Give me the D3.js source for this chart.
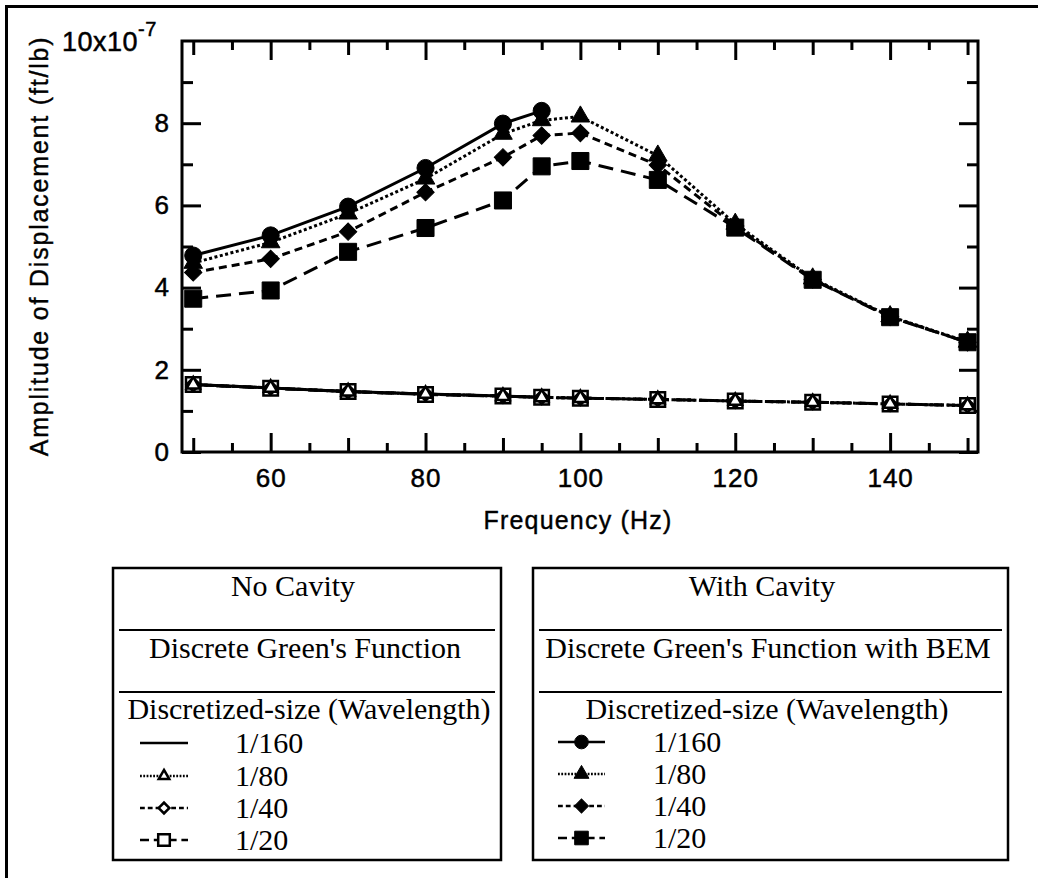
<!DOCTYPE html>
<html><head><meta charset="utf-8">
<script src="https://cdn.jsdelivr.net/npm/d3@7"></script>
<style>html,body{margin:0;padding:0;background:#fff}</style>
</head><body>
<svg id="chart" width="1038" height="878"></svg>
<script>
// Frequencies (Hz) sampled by each run
const freqFull = [50, 60, 70, 80, 90, 95, 100, 110, 120, 130, 140, 150];
const freqShort = [50, 60, 70, 80, 90, 95];

// With cavity: Discrete Green's Function with BEM (x10^-7 ft/lb)
const cav160 = [4.78, 5.27, 5.97, 6.91, 7.99, 8.30];
const cav80  = [4.60, 5.10, 5.80, 6.65, 7.74, 8.07, 8.16, 7.21, 5.55, 4.22, 3.30, 2.68];
const cav40  = [4.37, 4.70, 5.36, 6.32, 7.17, 7.70, 7.76, 6.98, 5.50, 4.20, 3.29, 2.67];
const cav20  = [3.73, 3.93, 4.87, 5.45, 6.12, 6.95, 7.08, 6.62, 5.46, 4.19, 3.28, 2.67];

// No cavity: Discrete Green's Function (x10^-7 ft/lb)
const free160 = [1.64, 1.56, 1.47, 1.41, 1.36, 1.33];
const free80  = [1.64, 1.56, 1.47, 1.41, 1.36, 1.33, 1.31, 1.28, 1.24, 1.21, 1.17, 1.13];
const free40  = [1.64, 1.56, 1.47, 1.41, 1.36, 1.33, 1.31, 1.28, 1.24, 1.21, 1.17, 1.13];
const free20  = [1.64, 1.55, 1.47, 1.40, 1.36, 1.33, 1.31, 1.28, 1.24, 1.21, 1.17, 1.13];

// Axis ticks
const xLabelTicks = [60, 80, 100, 120, 140];
const xMidTicks = [50, 70, 90, 110, 130, 150];
const xShortTicks = [55, 65, 75, 85, 95, 105, 115, 125, 135, 145];
const yLabelTicks = [0, 2, 4, 6, 8];
const yMinorTicks = [1, 3, 5, 7, 9];

const legendSizes = ["1/160", "1/80", "1/40", "1/20"];

const svg = d3.select("#chart");
const L = 182, R = 978, T = 41, B = 452;

const x = d3.scaleLinear().domain([48.55, 151.35]).range([L, R]);
const y = d3.scaleLinear().domain([0, 10]).range([B, T]);

// outer page frame
svg.append("path").attr("d", "M6.5,878V6.5H1038")
  .attr("fill", "none").attr("stroke", "#000").attr("stroke-width", 3);

const sansFont = "'Liberation Sans', Arial, Helvetica, sans-serif";
const serifFont = "'Liberation Serif', 'Times New Roman', serif";

function styleAxis(g) {
  g.select(".domain").remove();
  g.selectAll(".tick line").attr("stroke", "#000").attr("stroke-width", 3);
  g.selectAll(".tick text").attr("fill", "#000").attr("stroke", "#000").attr("stroke-width", 0.5)
    .style("font-family", sansFont).style("font-size", "26px").style("letter-spacing", "1px");
}

// bottom ticks (inward) with labels
svg.append("g").attr("transform", `translate(0,${B})`)
  .call(d3.axisBottom(x).tickValues(xLabelTicks).tickSize(-19).tickPadding(17).tickFormat(d3.format("d")))
  .call(styleAxis);
svg.append("g").attr("transform", `translate(0,${B})`)
  .call(d3.axisBottom(x).tickValues(xMidTicks).tickSize(-14).tickFormat(""))
  .call(styleAxis);
svg.append("g").attr("transform", `translate(0,${B})`)
  .call(d3.axisBottom(x).tickValues(xShortTicks).tickSize(-9).tickFormat(""))
  .call(styleAxis);
// top mirror ticks
svg.append("g").attr("transform", `translate(0,${T})`)
  .call(d3.axisTop(x).tickValues(xLabelTicks).tickSize(-19).tickFormat(""))
  .call(styleAxis);
svg.append("g").attr("transform", `translate(0,${T})`)
  .call(d3.axisTop(x).tickValues(xMidTicks).tickSize(-14).tickFormat(""))
  .call(styleAxis);
svg.append("g").attr("transform", `translate(0,${T})`)
  .call(d3.axisTop(x).tickValues(xShortTicks).tickSize(-9).tickFormat(""))
  .call(styleAxis);

// left ticks with labels
svg.append("g").attr("transform", `translate(${L},0)`)
  .call(d3.axisLeft(y).tickValues(yLabelTicks).tickSize(-19).tickPadding(12).tickFormat(d3.format("d")))
  .call(styleAxis);
svg.append("g").attr("transform", `translate(${L},0)`)
  .call(d3.axisLeft(y).tickValues(yMinorTicks).tickSize(-11).tickFormat(""))
  .call(styleAxis);
// right mirror ticks
svg.append("g").attr("transform", `translate(${R},0)`)
  .call(d3.axisRight(y).tickValues(yLabelTicks).tickSize(-19).tickFormat(""))
  .call(styleAxis);
svg.append("g").attr("transform", `translate(${R},0)`)
  .call(d3.axisRight(y).tickValues(yMinorTicks).tickSize(-11).tickFormat(""))
  .call(styleAxis);

// top label with exponent
const topLabel = svg.append("text").attr("x", 62).attr("y", y(10) + 9.5)
  .attr("stroke", "#000").attr("stroke-width", 0.5)
  .style("font-family", sansFont).style("font-size", "27px").style("letter-spacing", "0.5px");
topLabel.append("tspan").text("10x10");
topLabel.append("tspan").attr("dy", -15).style("font-size", "20px").text("-7");

// plot frame
svg.append("rect").attr("x", L).attr("y", T).attr("width", R - L).attr("height", B - T)
  .attr("fill", "none").attr("stroke", "#000").attr("stroke-width", 3);

// axis titles
svg.append("text").attr("x", (L + R) / 2 - 2).attr("y", 529).attr("text-anchor", "middle")
  .attr("stroke", "#000").attr("stroke-width", 0.4)
  .style("font-family", sansFont).style("font-size", "25px").style("letter-spacing", "1.2px")
  .text("Frequency (Hz)");
svg.append("text").attr("transform", "translate(48,246) rotate(-90)").attr("text-anchor", "middle")
  .attr("stroke", "#000").attr("stroke-width", 0.4)
  .style("font-family", sansFont).style("font-size", "25px").style("letter-spacing", "1.8px")
  .text("Amplitude of Displacement (ft/lb)");

// series definitions
const dashes = { s160: null, s80: "3,2.5", s40: "8,5", s20: "15,8" };
const symSquare = d3.symbol().type(d3.symbolSquare);
const symTri = d3.symbol().type(d3.symbolTriangle);
const symCircle = d3.symbol().type(d3.symbolCircle);

const series = [
  { f: freqFull, v: free20, dash: dashes.s20, mark: "square", filled: false },
  { f: freqFull, v: free40, dash: dashes.s40, mark: "diamond", filled: false },
  { f: freqFull, v: free80, dash: dashes.s80, mark: "triangle", filled: false },
  { f: freqShort, v: free160, dash: dashes.s160, mark: null, filled: false },
  { f: freqFull, v: cav20, dash: dashes.s20, mark: "square", filled: true },
  { f: freqFull, v: cav40, dash: dashes.s40, mark: "diamond", filled: true },
  { f: freqFull, v: cav80, dash: dashes.s80, mark: "triangle", filled: true },
  { f: freqShort, v: cav160, dash: dashes.s160, mark: "circle", filled: true }
];

function markerPath(kind, filled, scale) {
  const k = scale || 1;
  if (kind === "square") return symSquare.size((filled ? 290 : 210) * k * k)();
  if (kind === "diamond") return symSquare.size((filled ? 150 : 90) * k * k)();
  if (kind === "triangle") return symTri.size((filled ? 150 : 75) * k * k)();
  if (kind === "circle") return symCircle.size(230 * k * k)();
  return null;
}

function drawMarker(g, kind, filled, cx, cy, scale) {
  if (!kind) return;
  g.append("path")
    .attr("d", markerPath(kind, filled, scale))
    .attr("transform", `translate(${cx},${cy})` + (kind === "diamond" ? " rotate(45)" : ""))
    .attr("fill", filled ? "#000" : "#fff")
    .attr("stroke", "#000").attr("stroke-width", filled ? 1 : 2.5);
}

const line = d3.line().x(d => x(d[0])).y(d => y(d[1]));
const plot = svg.append("g");

series.forEach(s => {
  const pts = s.f.map((f, i) => [f, s.v[i]]);
  plot.append("path").datum(pts).attr("d", line)
    .attr("fill", "none").attr("stroke", "#000").attr("stroke-width", 3)
    .attr("stroke-dasharray", s.dash);
});
series.forEach(s => {
  s.f.forEach((f, i) => drawMarker(plot, s.mark, s.filled, x(f), y(s.v[i])));
});

// legend boxes
function legendBox(bx, by, bw, bh, titles, titleX, entryX, sampleX0, sampleX1, entries, filled, baselines) {
  const g = svg.append("g");
  g.append("rect").attr("x", bx).attr("y", by).attr("width", bw).attr("height", bh)
    .attr("fill", "none").attr("stroke", "#000").attr("stroke-width", 2.5);
  [630, 692].forEach(yy => g.append("line")
    .attr("x1", bx + 6).attr("x2", bx + bw - 6).attr("y1", yy).attr("y2", yy)
    .attr("stroke", "#000").attr("stroke-width", 2));
  titles.forEach((t, i) => g.append("text").attr("x", titleX[i]).attr("y", [596, 658, 719][i])
    .attr("text-anchor", "middle").style("font-family", serifFont).style("font-size", "30px").text(t));
  entries.forEach((e, i) => {
    const yy = baselines[i];
    const cy = yy - 10;
    g.append("line").attr("x1", sampleX0).attr("x2", sampleX1).attr("y1", cy).attr("y2", cy)
      .attr("stroke", "#000").attr("stroke-width", 2.5)
      .attr("stroke-dasharray", e.dash ? e.dash.split(",").map(v => v * 0.6).join(",") : null);
    drawMarker(g, e.mark, filled, (sampleX0 + sampleX1) / 2, cy, 0.8);
    g.append("text").attr("x", entryX).attr("y", yy)
      .style("font-family", serifFont).style("font-size", "30px").text(legendSizes[i]);
  });
}

const legendMarks = [
  { dash: null, mark: null },
  { dash: dashes.s80, mark: "triangle" },
  { dash: dashes.s40, mark: "diamond" },
  { dash: dashes.s20, mark: "square" }
];
const legendMarksCav = [
  { dash: null, mark: "circle" },
  { dash: dashes.s80, mark: "triangle" },
  { dash: dashes.s40, mark: "diamond" },
  { dash: dashes.s20, mark: "square" }
];

legendBox(113, 568, 388, 292,
  ["No Cavity", "Discrete Green's Function", "Discretized-size (Wavelength)"],
  [293, 305, 309], 235, 140, 188, legendMarks, false, [753, 786, 818, 850]);
legendBox(533, 568, 475, 292,
  ["With Cavity", "Discrete Green's Function with BEM", "Discretized-size (Wavelength)"],
  [762, 768, 767], 653, 558, 605, legendMarksCav, true, [752, 784, 816, 848]);
</script>
</body></html>
